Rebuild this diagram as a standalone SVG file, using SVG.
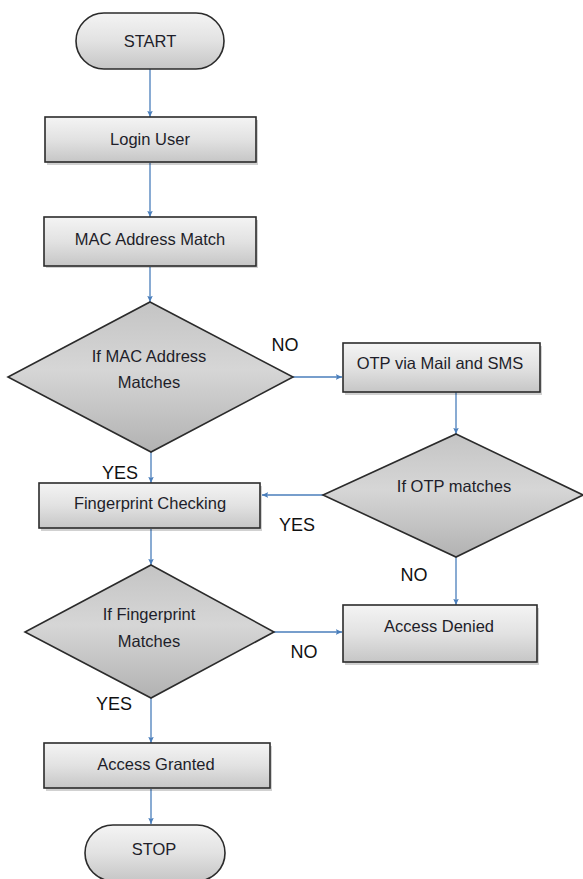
<svg xmlns="http://www.w3.org/2000/svg" width="583" height="879" viewBox="0 0 583 879">
<defs>
<linearGradient id="gBox" x1="0" y1="0" x2="0" y2="1">
<stop offset="0" stop-color="#f4f4f4"/>
<stop offset="0.5" stop-color="#e2e2e2"/>
<stop offset="1" stop-color="#c6c6c6"/>
</linearGradient>
<linearGradient id="gDia" x1="0" y1="0" x2="0" y2="1">
<stop offset="0" stop-color="#c4c4c4"/>
<stop offset="0.45" stop-color="#d6d6d6"/>
<stop offset="1" stop-color="#b2b2b2"/>
</linearGradient>
<marker id="arr" viewBox="0 0 10 10" refX="9" refY="5" markerWidth="7" markerHeight="7" orient="auto" markerUnits="userSpaceOnUse">
<path d="M0,1 L9,5 L0,9 L2,5 Z" fill="#4a7ebb"/>
</marker>
</defs>
<style>
.box{fill:url(#gBox);stroke:#2b2b2b;stroke-width:1.6}
.dia{fill:url(#gDia);stroke:#2b2b2b;stroke-width:1.6}
.sh{fill:#000;opacity:0.18}
.t{font-family:"Liberation Sans",Arial,sans-serif;font-size:16.5px;fill:#1e1e2a;text-anchor:middle;dominant-baseline:central}
.lbl{font-family:"Liberation Sans",Arial,sans-serif;font-size:18px;fill:#111;text-anchor:middle;dominant-baseline:central}
.c{fill:none;stroke:#4a7ebb;stroke-width:1.3;marker-end:url(#arr)}
</style>
<rect width="583" height="879" fill="#fff"/>

<g id="connectors">
<line class="c" x1="150" y1="69" x2="150" y2="117"/>
<line class="c" x1="150" y1="163" x2="150" y2="217"/>
<line class="c" x1="150" y1="267" x2="150" y2="302"/>
<line class="c" x1="293" y1="377" x2="342" y2="377"/>
<line class="c" x1="456" y1="392" x2="456" y2="434"/>
<line class="c" x1="151" y1="452" x2="151" y2="483"/>
<line class="c" x1="323" y1="495" x2="262" y2="495"/>
<line class="c" x1="151" y1="529" x2="151" y2="565"/>
<line class="c" x1="456" y1="557" x2="456" y2="605"/>
<line class="c" x1="274" y1="632" x2="342" y2="632"/>
<line class="c" x1="151" y1="698" x2="151" y2="743"/>
<line class="c" x1="151" y1="789" x2="151" y2="824"/>
</g>

<g id="start">
<rect x="76" y="13" width="148" height="56" rx="28" class="box"/>
<text x="150" y="41" class="t">START</text>
</g>

<g id="login">
<rect x="47" y="120" width="211" height="45" class="sh"/>
<rect x="45" y="117" width="211" height="45" class="box"/>
<text x="150" y="139" class="t">Login User</text>
</g>

<g id="mac">
<rect x="46" y="220" width="212" height="48" class="sh"/>
<rect x="44" y="217" width="212" height="49" class="box"/>
<text x="150" y="239" class="t">MAC Address Match</text>
</g>

<g id="ifmac">
<polygon points="150,302 293,377 151,452 8,377" class="dia"/>
<text x="149" y="356" class="t">If MAC Address</text>
<text x="149" y="382" class="t">Matches</text>
</g>

<g id="otp">
<rect x="345" y="346" width="197" height="49" class="sh"/>
<rect x="343" y="343" width="197" height="49" class="box"/>
<text x="440" y="363" class="t">OTP via Mail and SMS</text>
</g>

<g id="ifotp">
<polygon points="456,434 583,495 456,557 323,495" class="dia"/>
<text x="454" y="486" class="t">If OTP matches</text>
</g>

<g id="finger">
<rect x="41" y="486" width="221" height="45" class="sh"/>
<rect x="39" y="483" width="221" height="45" class="box"/>
<text x="150" y="503" class="t">Fingerprint Checking</text>
</g>

<g id="iffinger">
<polygon points="151,565 274,632 151,698 25,632" class="dia"/>
<text x="149" y="614" class="t">If Fingerprint</text>
<text x="149" y="641" class="t">Matches</text>
</g>

<g id="denied">
<rect x="345" y="608" width="194" height="57" class="sh"/>
<rect x="343" y="605" width="194" height="57" class="box"/>
<text x="439" y="626" class="t">Access Denied</text>
</g>

<g id="granted">
<rect x="46" y="746" width="226" height="45" class="sh"/>
<rect x="44" y="743" width="226" height="45" class="box"/>
<text x="156" y="764" class="t">Access Granted</text>
</g>

<g id="stop">
<rect x="85" y="825" width="140" height="56" rx="28" class="box"/>
<text x="154" y="849" class="t">STOP</text>
</g>

<g id="labels">
<text x="285" y="345" class="lbl">NO</text>
<text x="120" y="473" class="lbl">YES</text>
<text x="297" y="525" class="lbl">YES</text>
<text x="414" y="575" class="lbl">NO</text>
<text x="304" y="652" class="lbl">NO</text>
<text x="114" y="704" class="lbl">YES</text>
</g>
</svg>
